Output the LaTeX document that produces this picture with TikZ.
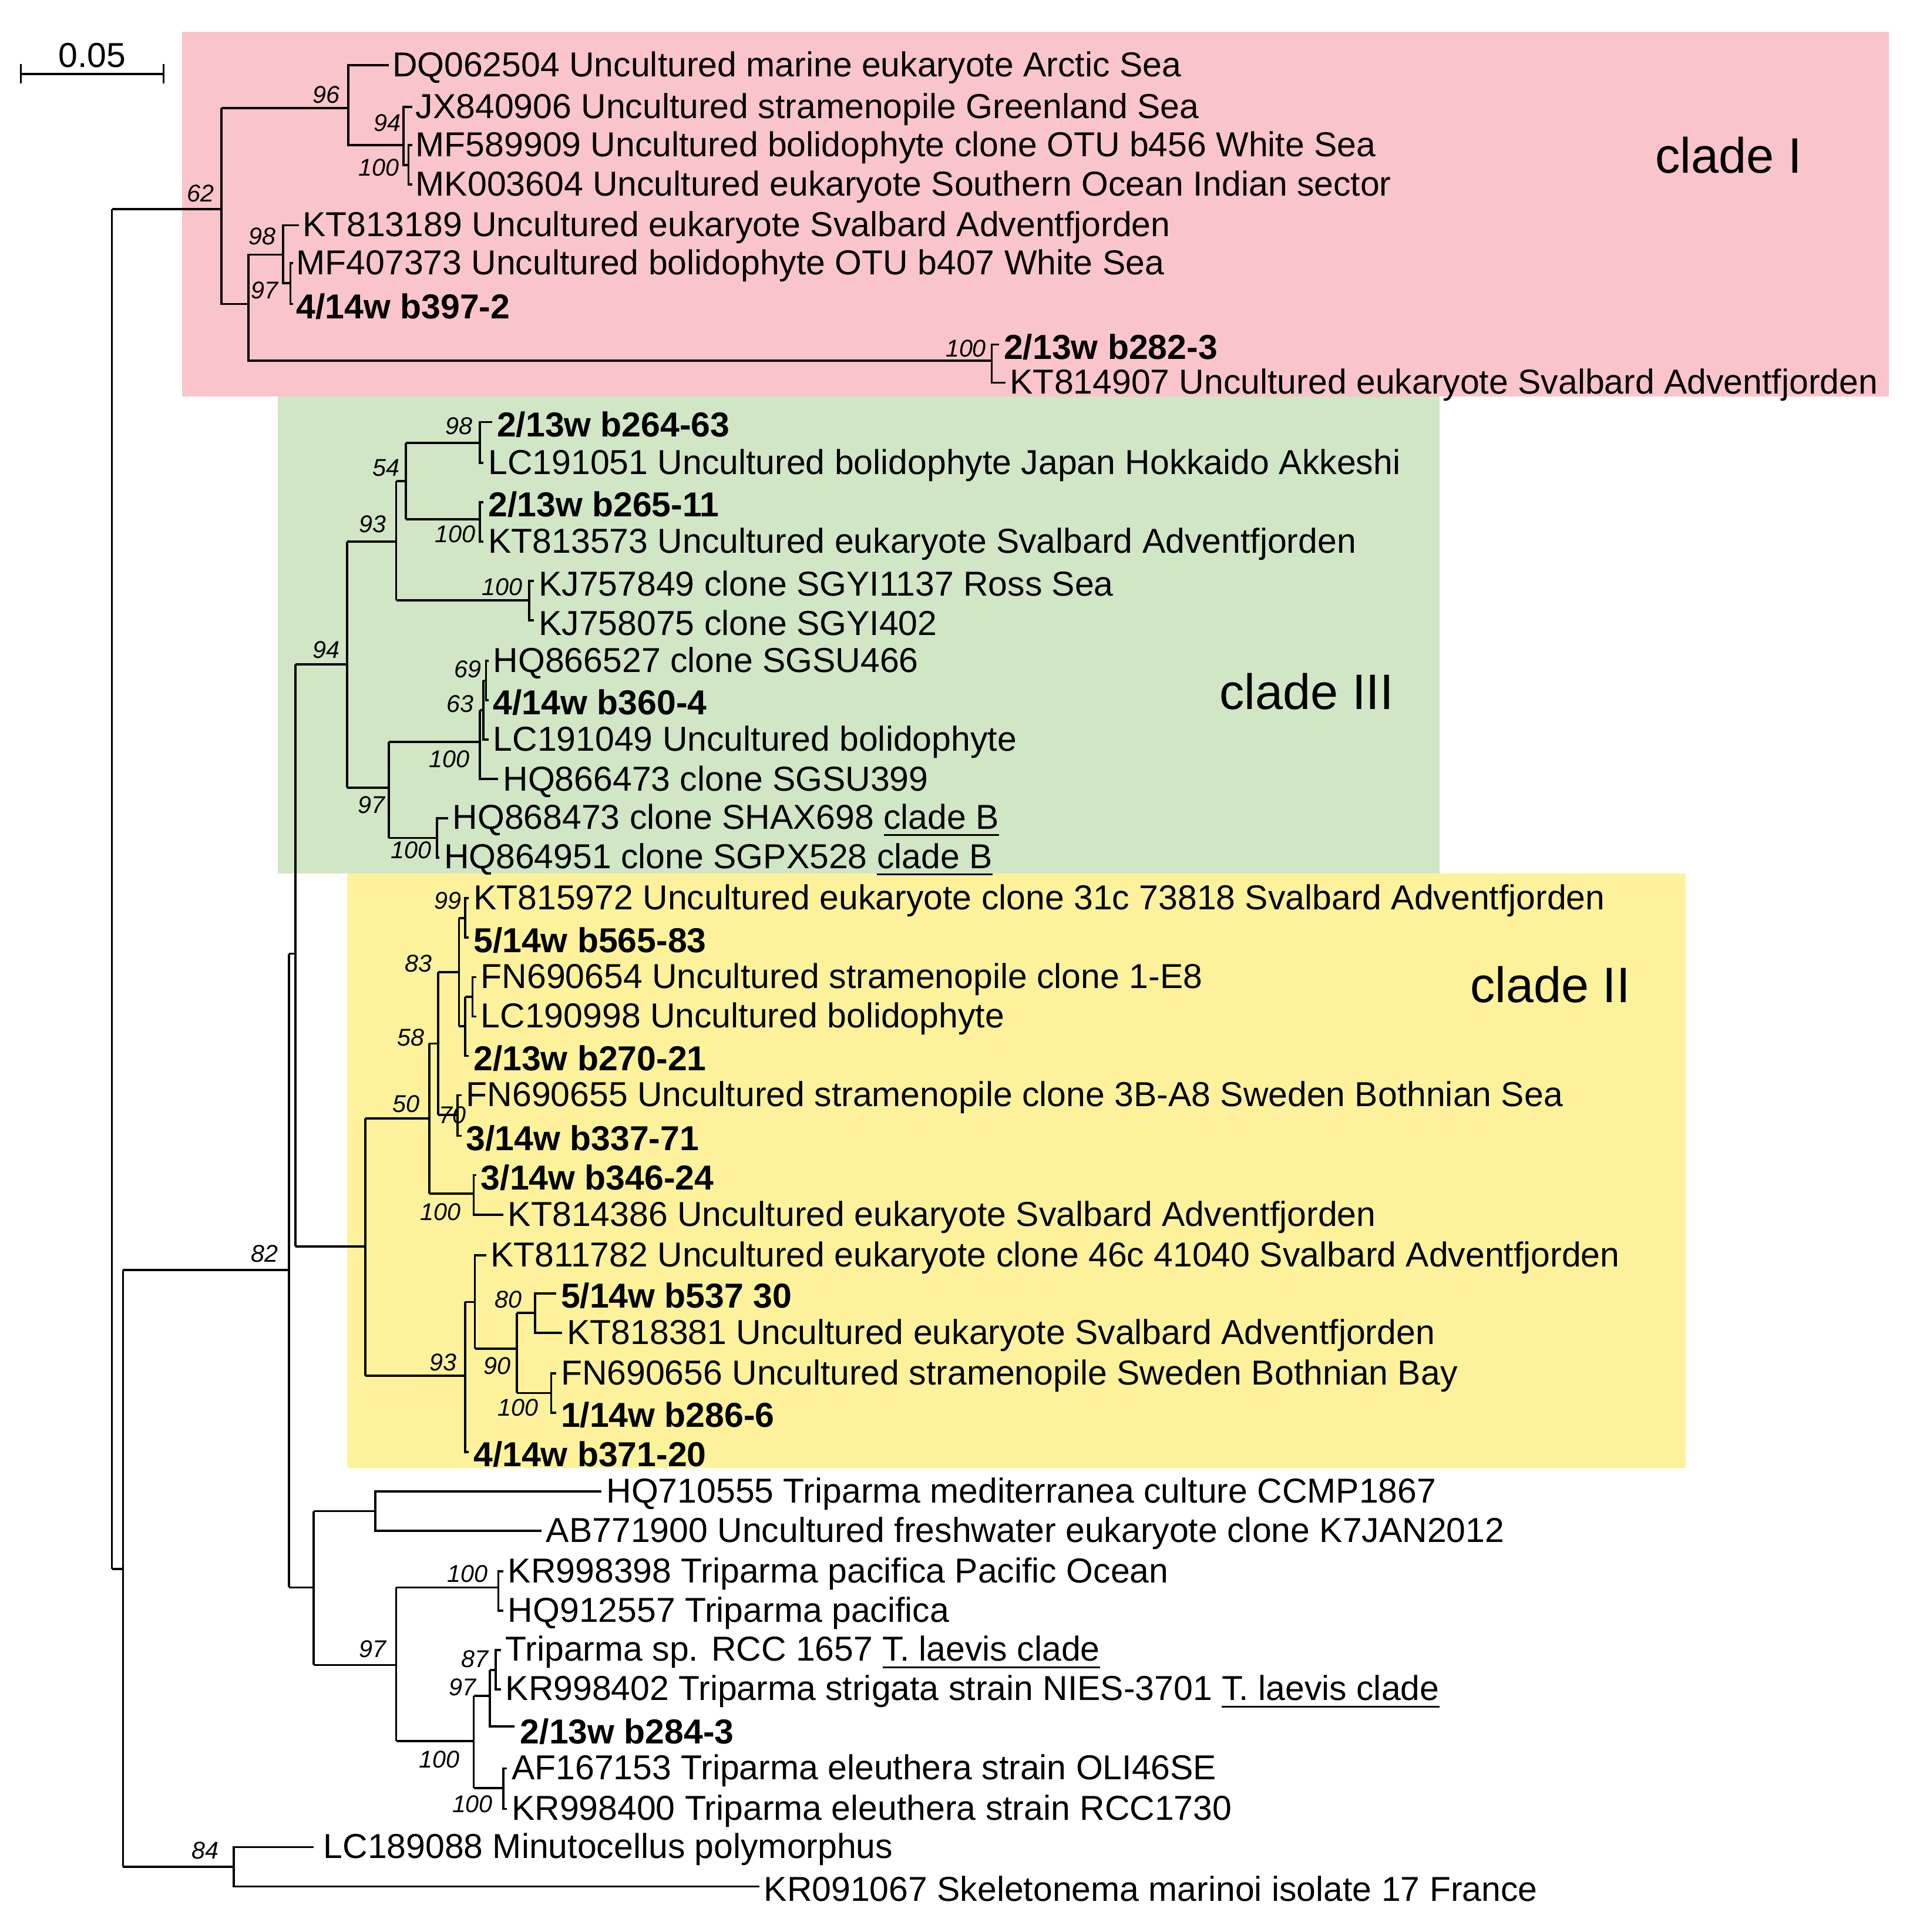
\documentclass[tikz,border=0pt]{standalone}
\usepackage{fontspec}
\setmainfont{Liberation Sans}
\begin{document}
\begin{tikzpicture}[x=0.01cm,y=-0.01cm,line width=0.5pt,
  leaf/.style={anchor=west,inner sep=0pt,yshift=-0.02cm,font=\fontsize{8.0}{9}\selectfont},
  bs/.style={inner sep=0pt,font=\fontsize{5.6}{7}\selectfont\itshape},
  clade/.style={inner sep=0pt,font=\fontsize{11.5}{13}\selectfont}]
\useasboundingbox (0,0) rectangle (1560,1570);
\definecolor{pinkc}{RGB}{249,196,202}
\definecolor{greenc}{RGB}{208,230,197}
\definecolor{yellowc}{RGB}{253,242,155}
\fill[pinkc] (148,26) rectangle (1535,322);
\fill[greenc] (226,322) rectangle (1170,710);
\fill[yellowc] (282,710) rectangle (1370,1193);
\newcommand\lf[3]{\node[leaf] at (#1,#2) {#3};}
\newcommand\bsl[3]{\node[bs] at (#1,#2) {#3};}
% scale bar
\draw (17,60)--(133,60); \draw (17,52)--(17,68); \draw (133,52)--(133,68);
\node[leaf,anchor=center] (sb) at (75,43) {0.05};
% clade labels
\node[clade] (c1) at (1405,126) {clade I};
\node[clade] (c3) at (1062,562) {clade III};
\node[clade] (c2) at (1260,800) {clade II};
% leaves
\lf{318}{53}{DQ062504 Uncultured marine eukaryote Arctic Sea}
\lf{337}{87}{JX840906 Uncultured stramenopile Greenland Sea}
\lf{337}{118}{MF589909 Uncultured bolidophyte clone OTU b456 White Sea}
\lf{337}{150}{MK003604 Uncultured eukaryote Southern Ocean Indian sector}
\lf{245}{183}{KT813189 Uncultured eukaryote Svalbard Adventfjorden}
\lf{240}{214}{MF407373 Uncultured bolidophyte OTU b407 White Sea}
\lf{240}{247}{\textbf{4/14w b397-2}}
\lf{815}{280}{\textbf{2/13w b282-3}}
\lf{820}{311}{KT814907 Uncultured eukaryote Svalbard Adventfjorden}
\lf{403}{343}{\textbf{2/13w b264-63}}
\lf{396}{376}{LC191051 Uncultured bolidophyte Japan Hokkaido Akkeshi}
\lf{396}{408}{\textbf{2/13w b265-11}}
\lf{396}{440}{KT813573 Uncultured eukaryote Svalbard Adventfjorden}
\lf{437}{472}{KJ757849 clone SGYI1137 Ross Sea}
\lf{437}{504}{KJ758075 clone SGYI402}
\lf{400}{537}{HQ866527 clone SGSU466}
\lf{400}{569}{\textbf{4/14w b360-4}}
\lf{400}{601}{LC191049 Uncultured bolidophyte}
\lf{408}{633}{HQ866473 clone SGSU399}
\lf{367}{665}{HQ868473 clone SHAX698 \underline{clade B}}
\lf{360}{697}{HQ864951 clone SGPX528 \underline{clade B}}
\lf{384}{730}{KT815972 Uncultured eukaryote clone 31c 73818 Svalbard Adventfjorden}
\lf{384}{762}{\textbf{5/14w b565-83}}
\lf{390}{794}{FN690654 Uncultured stramenopile clone 1-E8}
\lf{390}{826}{LC190998 Uncultured bolidophyte}
\lf{384}{858}{\textbf{2/13w b270-21}}
\lf{378}{890}{FN690655 Uncultured stramenopile clone 3B-A8 Sweden Bothnian Sea}
\lf{378}{923}{\textbf{3/14w b337-71}}
\lf{390}{955}{\textbf{3/14w b346-24}}
\lf{412}{987}{KT814386 Uncultured eukaryote Svalbard Adventfjorden}
\lf{398}{1020}{KT811782 Uncultured eukaryote clone 46c 41040 Svalbard Adventfjorden}
\lf{455}{1051}{\textbf{5/14w b537 30}}
\lf{460}{1083}{KT818381 Uncultured eukaryote Svalbard Adventfjorden}
\lf{455}{1116}{FN690656 Uncultured stramenopile Sweden Bothnian Bay}
\lf{455}{1148}{\textbf{1/14w b286-6}}
\lf{384}{1180}{\textbf{4/14w b371-20}}
\lf{492}{1212}{HQ710555 Triparma mediterranea culture CCMP1867}
\lf{443}{1244}{AB771900 Uncultured freshwater eukaryote clone K7JAN2012}
\lf{412}{1277}{KR998398 Triparma pacifica Pacific Ocean}
\lf{412}{1309}{HQ912557 Triparma pacifica}
\lf{410}{1341}{Triparma sp. RCC 1657 \underline{T. laevis clade}}
\lf{410}{1373}{KR998402 Triparma strigata strain NIES-3701 \underline{T. laevis clade}}
\lf{422}{1405}{\textbf{2/13w b284-3}}
\lf{415}{1437}{AF167153 Triparma eleuthera strain OLI46SE}
\lf{415}{1470}{KR998400 Triparma eleuthera strain RCC1730}
\lf{262}{1501}{LC189088 Minutocellus polymorphus}
\lf{620}{1533}{KR091067 Skeletonema marinoi isolate 17 France}
% clade I tree
\draw (316,53) -| (283,118) -- (328,118);
\draw (335,87) -| (328,134) -- (332,134);
\draw (335,118) -| (332,150) -- (335,150);
\draw (180,88) -- (283,88);
\draw (180,88) -- (180,247) -- (202,247);
\draw (91,170)--(180,170);
\draw (230,207) -| (202,293) -- (806,293);
\draw (243,183) -| (230,230) -- (236,230);
\draw (238,214) -| (236,247) -- (238,247);
\draw (812,280) -| (806,311) -- (817,311);
% clade III
\draw (400,343) -| (390,376) -- (393,376); \draw (330,360)--(390,360);
\draw (393,408) -| (390,440) -- (393,440); \draw (330,422)--(390,422);
\draw (330,360)--(330,422); \draw (322,391)--(330,391);
\draw (434,472) -| (430,504) -- (434,504); \draw (322,488)--(430,488);
\draw (322,391)--(322,488); \draw (282,440)--(322,440);
\draw (397,537) -| (395,569) -- (397,569); \draw (393,553)--(395,553);
\draw (393,553)--(393,601)--(397,601); \draw (390,577)--(393,577);
\draw (390,577)--(390,633)--(405,633); \draw (316,603)--(390,603);
\draw (364,665) -| (355,697) -- (357,697); \draw (316,681)--(355,681);
\draw (316,603)--(316,681); \draw (282,640)--(316,640);
\draw (282,440)--(282,640); \draw (240,540)--(282,540);
% clade II
\draw (381,730) -| (378,762) -- (381,762); \draw (373,746)--(378,746);
\draw (387,794) -| (384,826) -- (387,826); \draw (378,810)--(384,810);
\draw (378,810)--(378,858)--(381,858); \draw (373,834)--(378,834);
\draw (373,746)--(373,834); \draw (356,790)--(373,790);
\draw (375,890) -| (372,923) -- (375,923); \draw (356,906)--(372,906);
\draw (356,790)--(356,906); \draw (349,848)--(356,848);
\draw (387,955) -| (385,987) -- (409,987); \draw (349,970)--(385,970);
\draw (349,848)--(349,970); \draw (297,909)--(349,909);
\draw (452,1051) -| (435,1083) -- (457,1083); \draw (420,1067)--(435,1067);
\draw (452,1116) -| (448,1148) -- (452,1148); \draw (420,1132)--(448,1132);
\draw (420,1067)--(420,1132); \draw (386,1096)--(420,1096);
\draw (395,1020) -| (386,1096); \draw (378,1058)--(386,1058);
\draw (378,1058)--(378,1180)--(381,1180); \draw (297,1118)--(378,1118);
\draw (297,909)--(297,1118); \draw (240,1013)--(297,1013);
\draw (240,540)--(240,1013); \draw (235,775)--(240,775);
% lower
\draw (489,1212) -| (305,1244) -- (440,1244); \draw (255,1228)--(305,1228);
\draw (409,1277) -| (405,1309) -- (409,1309); \draw (322,1290)--(405,1290);
\draw (407,1341) -| (403,1373) -- (407,1373); \draw (398,1357)--(403,1357);
\draw (398,1357)--(398,1403)--(418,1403); \draw (385,1378)--(398,1378);
\draw (412,1437) -| (409,1470) -- (412,1470); \draw (385,1453)--(409,1453);
\draw (385,1378)--(385,1453); \draw (322,1415)--(385,1415);
\draw (322,1290)--(322,1415); \draw (255,1353)--(322,1353);
\draw (255,1228)--(255,1353); \draw (235,1290)--(255,1290);
\draw (235,775)--(235,1290); \draw (100,1032)--(235,1032);
\draw (255,1501) -| (190,1533) -- (617,1533); \draw (100,1517)--(190,1517);
\draw (100,1032)--(100,1517); \draw (91,1275)--(100,1275);
\draw (91,170)--(91,1275);
% bootstrap
\bsl{265}{77}{96}\bsl{315}{100}{94}\bsl{308}{136}{100}\bsl{163}{157}{62}
\bsl{213}{192}{98}\bsl{215}{236}{97}\bsl{785}{283}{100}
\bsl{373}{346}{98}\bsl{314}{380}{54}\bsl{303}{426}{93}\bsl{370}{434}{100}
\bsl{408}{477}{100}\bsl{265}{528}{94}\bsl{380}{544}{69}\bsl{374}{572}{63}
\bsl{365}{617}{100}\bsl{302}{654}{97}\bsl{334}{691}{100}
\bsl{364}{732}{99}\bsl{340}{783}{83}\bsl{334}{843}{58}\bsl{330}{897}{50}
\bsl{368}{906}{70}\bsl{358}{985}{100}\bsl{413}{1056}{80}\bsl{404}{1110}{90}
\bsl{360}{1107}{93}\bsl{421}{1144}{100}\bsl{215}{1019}{82}
\bsl{380}{1279}{100}\bsl{386}{1348}{87}\bsl{376}{1371}{97}\bsl{357}{1430}{100}
\bsl{384}{1466}{100}\bsl{303}{1340}{97}\bsl{167}{1504}{84}
\end{tikzpicture}
\end{document}
